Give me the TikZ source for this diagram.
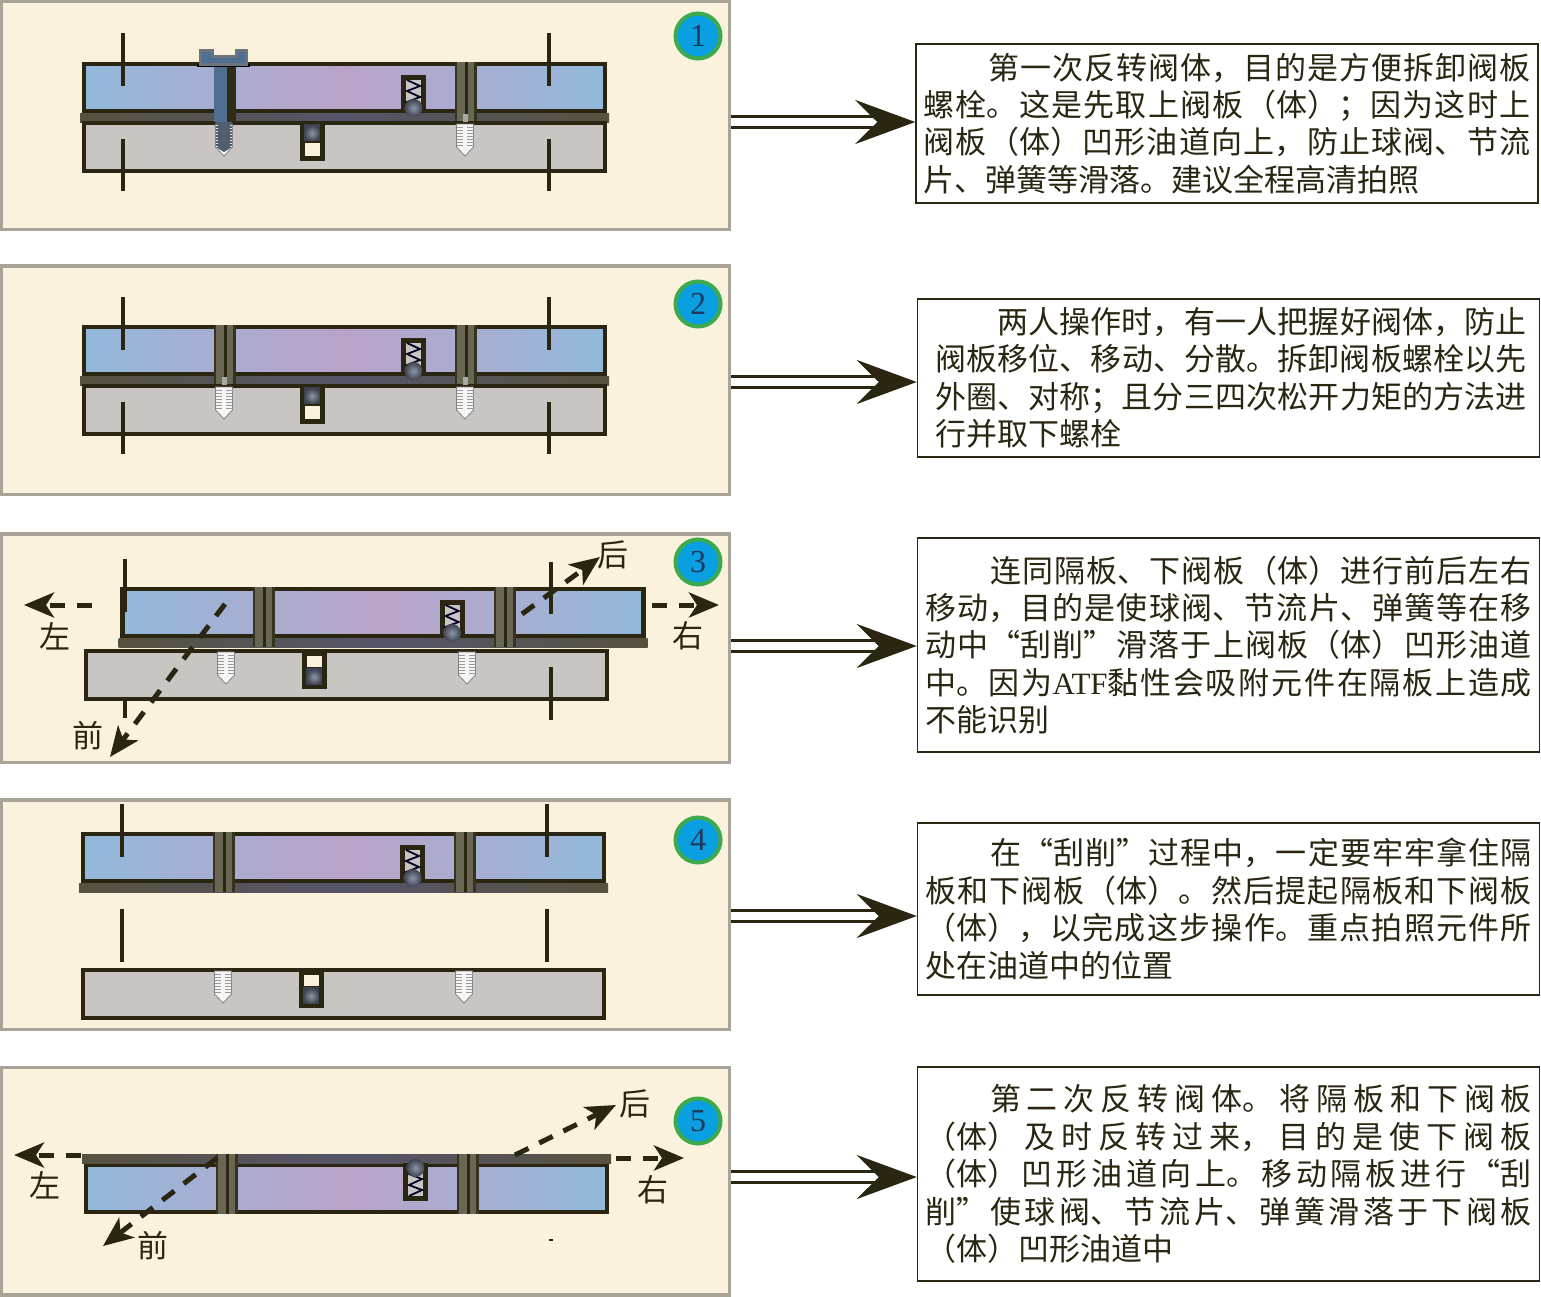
\documentclass[tikz,border=0pt]{standalone}
\usepackage{fontspec}
\setmainfont{Liberation Serif}
\newfontfamily\cjk{Noto Sans CJK SC}
\usetikzlibrary{arrows.meta,positioning,calc}
\XeTeXlinebreaklocale "zh"
\XeTeXlinebreakskip=0pt plus 12pt
\definecolor{Cream}{HTML}{FAF2DC}
\definecolor{PanelEdge}{HTML}{A8A498}
\definecolor{Ink}{HTML}{2B2612}
\definecolor{Steel}{HTML}{C8C5C2}
\definecolor{SkyBody}{HTML}{92B9DB}
\definecolor{MauveBody}{HTML}{BBA3C8}
\definecolor{PlateGrey}{HTML}{57523F}
\definecolor{PlateBlue}{HTML}{55556A}
\definecolor{Sleeve}{HTML}{6A6654}
\definecolor{BoltBlue}{HTML}{4E6E92}
\definecolor{BoltGrey}{HTML}{6C757C}
\definecolor{BallLight}{HTML}{8C96A8}
\definecolor{BallDark}{HTML}{3E4250}
\definecolor{BadgeBlue}{HTML}{0A9FE0}
\definecolor{BadgeGreen}{HTML}{3DAA4B}
\definecolor{BadgeText}{HTML}{1F3A5F}
\tikzset{
    panelbox/.style={draw=PanelEdge,fill=Cream,line width=3.5pt,minimum width=728pt,inner sep=0pt},
    badge/.style={circle,draw=BadgeGreen,fill=BadgeBlue,line width=4pt,minimum size=45pt,inner sep=0pt,
        text=BadgeText,font=\fontsize{32}{32}\selectfont},
    textbox/.style={draw=Ink,line width=1.5pt,fill=white,inner xsep=0pt,inner ysep=0pt,minimum width=622pt,
        align=justify,text=Ink,font=\cjk\fontsize{31}{37.4}\selectfont},
    dirlabel/.style={text=Ink,inner sep=0pt,font=\cjk\fontsize{31}{31}\selectfont},
    tickmark/.style={draw=Ink,line width=4.5pt},
    bodyedge/.style={draw=Ink,line width=4.5pt},
    flowarrow/.style={draw=Ink,line width=3pt,double=white,double distance=8.5pt,
        -{Stealth[length=60pt,width=44pt,inset=22pt]}},
    dirarrow/.style={draw=Ink,line width=5pt,dash pattern=on 15pt off 12pt,
        -{Stealth[length=30pt,width=25pt,inset=8pt]}}
}
% Bolt sleeve through the upper body
\newcommand{\boltsleeve}[1]{
    \fill[Sleeve] (#1-10,62) rectangle (#1+12,122);
    \fill[Ink] (#1,62) rectangle (#1+3,122);
    \fill[Ink!80!Sleeve] (#1-10,62) rectangle (#1-8,122);
    \fill[Ink!80!Sleeve] (#1+9,62) rectangle (#1+12,122);
}
% Threaded hole in the lower body
\newcommand{\threadhole}[1]{
    \filldraw[fill=white!92!gray,draw=gray,line width=0.8pt] (#1-8.5,124) -- (#1-8.5,147) -- (#1,156) -- (#1+8.5,147) -- (#1+8.5,124) -- cycle;
    \foreach \yy in {127,130,...,145} {
        \draw[gray!80,line width=0.7pt] (#1-8.5,\yy) -- (#1-2,\yy);
        \draw[gray!80,line width=0.7pt] (#1+2,\yy) -- (#1+8.5,\yy);
    }
}
% Upper body with plate, spring pocket and ball
\newcommand{\upperbody}[1]{
    \begin{scope}[#1]
        \shade[left color=SkyBody,right color=SkyBody,middle color=MauveBody] (84,64) rectangle (605,111);
        \draw[bodyedge] (84,64) rectangle (605,111);
        \shade[left color=PlateGrey,right color=PlateGrey,middle color=PlateBlue] (80,113) rectangle (609,122);
        \fill[Ink] (401,75) rectangle (426,113);
        \fill[Steel] (406,80) rectangle (421,108);
        \draw[black!85!blue,line width=1.8pt] (407,80) -- (420,86) -- (407,91) -- (420,97) -- (407,102) -- (420,106);
        \shade[inner color=BallLight,outer color=BallDark] (413.5,108) circle (9);
        \boltsleeve{224}
        \boltsleeve{465}
    \end{scope}
}
% Lower body: ball centre, top and bottom of the empty part of the pocket
\newcommand{\lowerbody}[4]{
    \begin{scope}[#1]
        \fill[Steel] (84,123) rectangle (605,171);
        \draw[bodyedge] (84,123) rectangle (605,171);
        \fill[Ink] (300,122) rectangle (325,161);
        \fill[BallDark] (304,#2-9) rectangle (320,#2+8);
        \fill[Cream] (304.5,#3) rectangle (320,#4);
        \shade[inner color=BallLight,outer color=BallDark] (312,#2) circle (8);
        \threadhole{224}
        \threadhole{465}
    \end{scope}
}

\begin{document}
\begin{tikzpicture}[x=1pt,y=-1pt]
    \useasboundingbox (0,0) rectangle (1541,1296);

    % Panels
    \foreach \pname/\yc/\ph in {A/115/228.5,B/380/228.5,C/648/228.5,D/914.5/229.5,E/1181/227.5}
        \node[panelbox,minimum height=\ph pt] (panel\pname) at (365.5,\yc) {};

    % Number badges
    \foreach \pname/\yc/\num in {A/36/1,B/304/2,C/562/3,D/840/4,E/1121/5}
        \node[badge] (badge\pname) at (698,\yc) {\num};

    % Step 1
    \upperbody{}
    \lowerbody{}{133}{143}{156}
    \fill[Steel!70!Sleeve] (463,114) rectangle (468,122);
    \draw[tickmark] (123,33) -- (123,86);
    \draw[tickmark] (123,139) -- (123,191);
    \draw[tickmark] (549,33) -- (549,86);
    \draw[tickmark] (549,139) -- (549,191);
    % Bolt still in place
    \fill[Ink!90!Sleeve] (214,66) rectangle (236,122);
    \fill[BoltBlue] (214,66) rectangle (227,122);
    \fill[BoltBlue!55!gray!80!black] (216,122) rectangle (232,147);
    \fill[BoltBlue!55!gray!80!black] (216,147) -- (224,152) -- (232,147) -- cycle;
    \foreach \yy in {125,128,...,146} \draw[white!80!gray,line width=0.6pt] (216,\yy) -- (218,\yy) (230,\yy) -- (232,\yy);
    \fill[black] (197,64) rectangle (250,67);
    \filldraw[fill=BoltBlue,draw=BoltGrey,line width=3pt] (200,50) -- (212,50) -- (212,56) -- (236,56) -- (236,50) -- (246,50) -- (246,64) -- (200,64) -- cycle;

    % Step 2
    \upperbody{shift={(0,263)}}
    \lowerbody{shift={(0,263)}}{133}{143}{156}
    \fill[Steel!70!Sleeve] (222,377) rectangle (227,385);
    \fill[Steel!70!Sleeve] (463,377) rectangle (468,385);
    \draw[tickmark] (123,297) -- (123,350);
    \draw[tickmark] (123,402) -- (123,454);
    \draw[tickmark] (549,297) -- (549,350);
    \draw[tickmark] (549,402) -- (549,454);

    % Step 3
    \lowerbody{shift={(2,528)}}{149}{128}{139}
    \upperbody{shift={(38.5,525)}}
    \draw[tickmark] (125,559) -- (125,612);
    \draw[tickmark] (125,701) -- (125,718);
    \draw[tickmark] (551,562) -- (551,614);
    \draw[tickmark] (551,667) -- (551,720);
    \node[dirlabel] (leftC) at (55,636) {左};
    \node[dirlabel] (rightC) at (688,636) {右};
    \node[dirlabel] (frontC) at (88,736) {前};
    \node[dirlabel] (backC) at (613,555) {后};
    \coordinate (leftCa) at (92,605);
    \coordinate (leftCb) at (24,605);
    \coordinate (rightCa) at (652,605);
    \coordinate (rightCb) at (719,605);
    \coordinate (frontCa) at (225,604);
    \coordinate (frontCb) at (110,757);
    \coordinate (backCa) at (522,614);
    \coordinate (backCb) at (600,557);
    \draw[dirarrow] (leftCa) -- (leftCb);
    \draw[dirarrow] (rightCa) -- (rightCb);
    \draw[dirarrow] (frontCa) -- (frontCb);
    \draw[dirarrow] (backCa) -- (backCb);

    % Step 4
    \upperbody{shift={(-1,770)}}
    \lowerbody{shift={(-1,847)}}{149}{128}{139}
    \draw[tickmark] (122,804) -- (122,857);
    \draw[tickmark] (122,909) -- (122,962);
    \draw[tickmark] (547,804) -- (547,857);
    \draw[tickmark] (547,909) -- (547,962);

    % Step 5
    \upperbody{shift={(2,1276)},yscale=-1}
    \fill[Ink] (549,1239) rectangle (553,1241);
    \node[dirlabel] (leftE) at (45,1185) {左};
    \node[dirlabel] (rightE) at (653,1190) {右};
    \node[dirlabel] (frontE) at (153,1246) {前};
    \node[dirlabel] (backE) at (635,1104) {后};
    \coordinate (leftEa) at (81,1155);
    \coordinate (leftEb) at (14,1155);
    \coordinate (rightEa) at (616,1158);
    \coordinate (rightEb) at (684,1158);
    \coordinate (frontEa) at (217,1158);
    \coordinate (frontEb) at (103,1246);
    \coordinate (backEa) at (515,1155);
    \coordinate (backEb) at (616,1105);
    \draw[dirarrow] (leftEa) -- (leftEb);
    \draw[dirarrow] (rightEa) -- (rightEb);
    \draw[dirarrow] (frontEa) -- (frontEb);
    \draw[dirarrow] (backEa) -- (backEb);

    % Text boxes
    \node[textbox,text width=607pt,minimum height=159pt] (boxA) at (1227,123.5) {\hspace*{65pt}第一次反转阀体，目的是方便拆卸阀板\linebreak 螺栓。这是先取上阀板（体）；因为这时上\linebreak 阀板（体）凹形油道向上，防止球阀、节流\linebreak 片、弹簧等滑落。建议全程高清拍照};
    \node[textbox,text width=597pt,minimum height=158pt] (boxB) at (1228.5,378) {\hspace*{67pt}两人操作时，有一人把握好阀体，防止\linebreak \hspace*{5pt}阀板移位、移动、分散。拆卸阀板螺栓以先\linebreak \hspace*{5pt}外圈、对称；且分三四次松开力矩的方法进\linebreak \hspace*{5pt}行并取下螺栓};
    \node[textbox,text width=607pt,minimum height=214pt] (boxC) at (1228.5,645) {\hspace*{65pt}连同隔板、下阀板（体）进行前后左右\linebreak 移动，目的是使球阀、节流片、弹簧等在移\linebreak 动中“刮削”滑落于上阀板（体）凹形油道\linebreak 中。因为{\normalfont ATF}黏性会吸附元件在隔板上造成\linebreak 不能识别};
    \node[textbox,text width=607pt,minimum height=172pt] (boxD) at (1228.5,909) {\hspace*{65pt}在“刮削”过程中，一定要牢牢拿住隔\linebreak 板和下阀板（体）。然后提起隔板和下阀板\linebreak （体），以完成这步操作。重点拍照元件所\linebreak 处在油道中的位置};
    \node[textbox,text width=607pt,minimum height=214pt] (boxE) at (1228.5,1174) {\hspace*{65pt}第二次反转阀体。将隔板和下阀板\linebreak （体）及时反转过来，目的是使下阀板\linebreak （体）凹形油道向上。移动隔板进行“刮\linebreak 削”使球阀、节流片、弹簧滑落于下阀板\linebreak （体）凹形油道中};

    % Connectors
    \foreach \pname/\yy in {A/122,B/382,C/646,D/916,E/1177} {
        \coordinate (tip\pname) at (box\pname.west |- 0,\yy);
        \draw[flowarrow] (panel\pname.east |- tip\pname) -- (tip\pname);
    }
\end{tikzpicture}
\end{document}
